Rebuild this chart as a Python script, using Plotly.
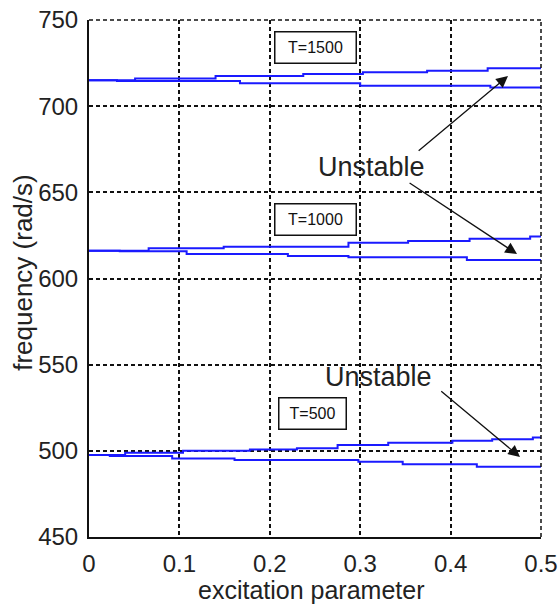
import plotly.graph_objects as go

# ---- data ----
x_1500_up = [0, 0.051, 0.140, 0.237, 0.303, 0.374, 0.441, 0.5]
y_1500_up = [715.1, 716.1, 717.5, 718.7, 719.7, 720.6, 722.0, 722.0]
x_1500_lo = [0, 0.031, 0.167, 0.300, 0.444, 0.5]
y_1500_lo = [715.1, 714.6, 713.3, 711.9, 710.9, 710.9]

x_1000_up = [0, 0.066, 0.149, 0.287, 0.353, 0.421, 0.488, 0.5]
y_1000_up = [616.1, 617.5, 618.4, 620.8, 621.8, 623.1, 624.3, 624.3]
x_1000_lo = [0, 0.034, 0.108, 0.220, 0.287, 0.418, 0.5]
y_1000_lo = [616.1, 615.8, 614.2, 613.1, 612.3, 610.7, 610.7]

x_500_up = [0, 0.040, 0.104, 0.178, 0.230, 0.275, 0.331, 0.402, 0.446, 0.491, 0.5]
y_500_up = [497.6, 498.9, 500.1, 500.8, 501.5, 503.4, 504.7, 505.9, 506.7, 507.8, 507.8]
x_500_lo = [0, 0.023, 0.092, 0.161, 0.298, 0.347, 0.429, 0.5]
y_500_lo = [497.6, 497.0, 495.5, 494.7, 493.7, 492.2, 490.8, 490.8]

series = [
    (x_1500_up, y_1500_up), (x_1500_lo, y_1500_lo),
    (x_1000_up, y_1000_up), (x_1000_lo, y_1000_lo),
    (x_500_up, y_500_up), (x_500_lo, y_500_lo),
]

box_labels = ["T=1500", "T=1000", "T=500"]
box_x = [0.250, 0.250, 0.247]
box_y = [734.3, 634.5, 521.4]
box_w = [78, 78, 64]

unstable_x = [0.312, 0.320]
unstable_y = [664.5, 543.0]

# arrows: (tail_x, tail_y, head_x, head_y)
arrows = [
    (0.363, 673.4, 0.4635, 717.5),
    (0.353, 656.0, 0.4735, 614.2),
    (0.388, 535.3, 0.4768, 496.4),
]

x_ticks = [0, 0.1, 0.2, 0.3, 0.4, 0.5]
x_tick_text = ["0", "0.1", "0.2", "0.3", "0.4", "0.5"]
y_ticks = [450, 500, 550, 600, 650, 700, 750]

x_title = "excitation parameter"
y_title = "frequency (rad/s)"

fig = go.Figure()
for xs, ys in series:
    fig.add_trace(go.Scatter(x=xs, y=ys, mode="lines", line_shape="hv",
                             line=dict(color="#1a1aff", width=2),
                             showlegend=False, hoverinfo="skip"))

annotations = []
for lab, bx, by, bw in zip(box_labels, box_x, box_y, box_w):
    annotations.append(dict(x=bx, y=by, xref="x", yref="y", text=lab,
                            showarrow=False, font=dict(size=16, color="#111"),
                            bordercolor="#111", borderwidth=1.5, borderpad=1,
                            width=bw, height=28, bgcolor="white"))
for ux, uy in zip(unstable_x, unstable_y):
    annotations.append(dict(x=ux, y=uy, xref="x", yref="y", text="Unstable",
                            showarrow=False, font=dict(size=27, color="#222")))
for tx, ty, hx, hy in arrows:
    annotations.append(dict(x=hx, y=hy, ax=tx, ay=ty, xref="x", yref="y",
                            axref="x", ayref="y", text="", showarrow=True,
                            arrowhead=2, arrowsize=1.8, arrowwidth=1.3,
                            arrowcolor="#111", standoff=0))
# axis titles
annotations.append(dict(x=0.493, y=-0.1025, xref="paper", yref="paper",
                        text=x_title, showarrow=False, xanchor="center",
                        yanchor="middle", font=dict(size=25, color="#222")))
annotations.append(dict(x=-0.146, y=0.511, xref="paper", yref="paper",
                        text=y_title, showarrow=False, textangle=-90,
                        xanchor="center", yanchor="middle",
                        font=dict(size=26, color="#222")))

dash = dict(color="#111", width=1.5, dash="4px,3px")
shapes = [
    dict(type="line", xref="paper", yref="paper", x0=0, x1=1, y0=1, y1=1, line=dash),
    dict(type="line", xref="paper", yref="paper", x0=1, x1=1, y0=0, y1=1, line=dash),
]

grid = dict(showgrid=True, gridcolor="#111", gridwidth=1.5, griddash="4px,3px")
fig.update_layout(
    width=560, height=604,
    margin=dict(l=89, r=19, t=20, b=67),
    paper_bgcolor="white", plot_bgcolor="white",
    font=dict(family="Liberation Sans, Arial", size=24, color="#222"),
    annotations=annotations, shapes=shapes,
    xaxis=dict(range=[0, 0.5], tickvals=x_ticks, ticktext=x_tick_text,
               showline=True, linecolor="#111", linewidth=2, zeroline=False,
               ticks="", automargin=False, ticklabelstandoff=4,
               **grid),
    yaxis=dict(range=[450, 750], tickvals=y_ticks,
               showline=True, linecolor="#111", linewidth=2, zeroline=False,
               ticks="", automargin=False, ticklabelstandoff=4,
               **grid),
)

fig.write_html("out.html")
